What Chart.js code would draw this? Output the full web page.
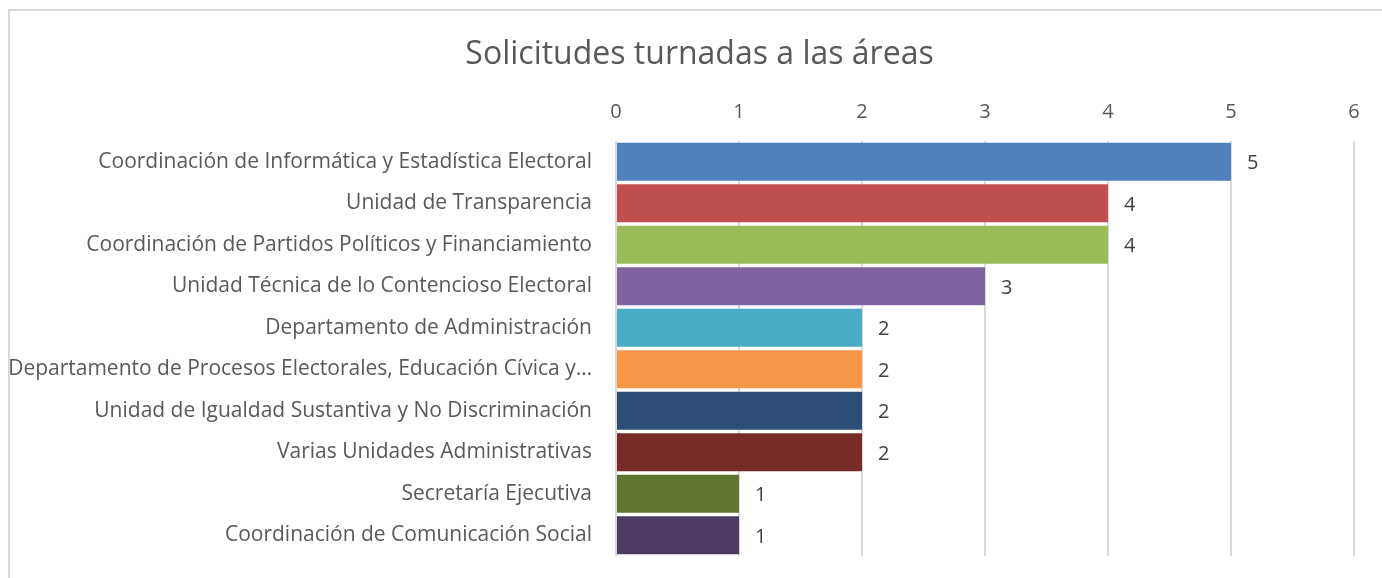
<!DOCTYPE html>
<html>
<head>
<meta charset="utf-8">
<script src="https://cdn.jsdelivr.net/npm/chart.js@4"></script>
<style>
  html, body { margin: 0; padding: 0; background: #fff; }
  #wrap { width: 1382px; height: 578px; }
</style>
</head>
<body>
<div id="wrap"><canvas id="chart" width="1382" height="578"></canvas></div>
<script>
const chartTitle = 'Solicitudes turnadas a las áreas';
const areas = [
    'Coordinación de Informática y Estadística Electoral',
    'Unidad de Transparencia',
    'Coordinación de Partidos Políticos y Financiamiento',
    'Unidad Técnica de lo Contencioso Electoral',
    'Departamento de Administración',
    'Departamento de Procesos Electorales, Educación Cívica y…',
    'Unidad de Igualdad Sustantiva y No Discriminación',
    'Varias Unidades Administrativas',
    'Secretaría Ejecutiva',
    'Coordinación de Comunicación Social'
];
const solicitudes = [5, 4, 4, 3, 2, 2, 2, 2, 1, 1];
const barColors = ['#4F81BD', '#C0504D', '#9BBB59', '#8064A2', '#4BACC6', '#F79646', '#2C4D75', '#772C2A', '#5F7530', '#4D3B62'];
const xTicks = [0, 1, 2, 3, 4, 5, 6];

const FONT = '"Open Sans"';

// outer frame (only top and left edges show in the reference) + title,
// which sits a bit right of the canvas centre like in the original
const framePlugin = {
    id: 'frame',
    beforeDraw(chart) {
        const ctx = chart.ctx;
        ctx.save();
        ctx.fillStyle = '#fff';
        ctx.fillRect(0, 0, chart.width, chart.height);
        ctx.strokeStyle = '#d9d9d9';
        ctx.lineWidth = 2;
        ctx.beginPath();
        ctx.moveTo(9, chart.height);
        ctx.lineTo(9, 10);
        ctx.lineTo(chart.width, 10);
        ctx.stroke();
        ctx.font = '32px ' + FONT;
        ctx.fillStyle = '#595959';
        ctx.textAlign = 'center';
        ctx.textBaseline = 'middle';
        ctx.fillText(chartTitle, 699.5, 55);
        ctx.restore();
    }
};

// value labels at the end of every bar
const valueLabels = {
    id: 'valueLabels',
    afterDatasetsDraw(chart) {
        const ctx = chart.ctx;
        const meta = chart.getDatasetMeta(0);
        ctx.save();
        ctx.font = '20px ' + FONT;
        ctx.fillStyle = '#404040';
        ctx.textAlign = 'left';
        ctx.textBaseline = 'middle';
        meta.data.forEach((bar, i) => {
            ctx.fillText(String(solicitudes[i]), bar.x + 16, bar.y + 2);
        });
        ctx.restore();
    }
};

new Chart(document.getElementById('chart'), {
    type: 'bar',
    data: {
        labels: areas,
        datasets: [{
            data: solicitudes,
            backgroundColor: barColors,
            borderWidth: 0,
            categoryPercentage: 1,
            barPercentage: 0.915
        }]
    },
    options: {
        indexAxis: 'y',
        responsive: false,
        animation: false,
        layout: { padding: { left: 0, right: 28, top: 85, bottom: 22 } },
        plugins: {
            legend: { display: false },
            tooltip: { enabled: false },
            title: { display: false }
        },
        scales: {
            x: {
                position: 'top',
                min: 0,
                max: 6,
                afterBuildTicks: (scale) => { scale.ticks = xTicks.map(v => ({ value: v })); },
                afterFit: (scale) => { scale.height = 56; },
                grid: { color: '#d9d9d9', lineWidth: 2, drawTicks: false },
                border: { display: false },
                ticks: {
                    color: '#595959',
                    font: { family: FONT, size: 20 },
                    padding: 17
                }
            },
            y: {
                afterFit: (scale) => { scale.width = 616; },
                grid: { display: false, tickLength: 18 },
                border: { display: false },
                ticks: {
                    color: '#595959',
                    font: { family: FONT, size: 21 },
                    padding: 6,
                    autoSkip: false
                }
            }
        }
    },
    plugins: [framePlugin, valueLabels]
});
</script>
</body>
</html>
